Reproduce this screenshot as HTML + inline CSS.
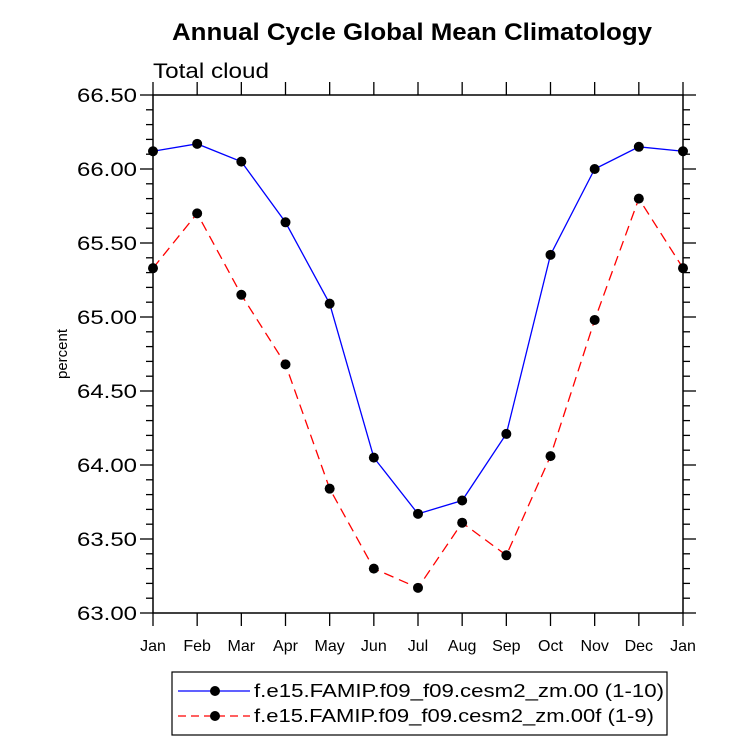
<!DOCTYPE html>
<html><head><meta charset="utf-8"><style>
body{margin:0;background:#fff}
svg text{font-family:"Liberation Sans",Arial,sans-serif}
</style></head><body>
<svg id="chart" width="733" height="748" xmlns="http://www.w3.org/2000/svg">
<text x="172" y="40" font-size="24" font-weight="bold" textLength="480" lengthAdjust="spacingAndGlyphs">Annual Cycle Global Mean Climatology</text>
<text x="153" y="78" font-size="21" textLength="116" lengthAdjust="spacingAndGlyphs">Total cloud</text>
<text transform="translate(67,354) rotate(-90)" font-size="15" text-anchor="middle">percent</text>
<g id="axes"></g>
<g id="series"></g>
<g>
<rect x="172" y="672" width="495" height="63" fill="none" stroke="#000" stroke-width="1.2"/>
<g>
<line x1="178" y1="691" x2="250" y2="691" stroke="#0000ff" stroke-width="1.2"/>
<circle cx="215" cy="691" r="5" fill="#000"/>
<text x="254" y="697" font-size="18" textLength="410" lengthAdjust="spacingAndGlyphs">f.e15.FAMIP.f09_f09.cesm2_zm.00 (1-10)</text></g>
<g>
<line x1="178" y1="716" x2="250" y2="716" stroke="#ff0000" stroke-width="1.2" stroke-dasharray="8,5"/>
<circle cx="215" cy="716" r="5" fill="#000"/>
<text x="254" y="722" font-size="18" textLength="400" lengthAdjust="spacingAndGlyphs">f.e15.FAMIP.f09_f09.cesm2_zm.00f (1-9)</text></g>
</g>
</svg>
<script>
const months=["Jan","Feb","Mar","Apr","May","Jun","Jul","Aug","Sep","Oct","Nov","Dec","Jan"];
const blueValues=[66.12,66.17,66.05,65.64,65.09,64.05,63.67,63.76,64.21,65.42,66.00,66.15,66.12];
const redValues=[65.33,65.70,65.15,64.68,63.84,63.30,63.17,63.61,63.39,64.06,64.98,65.80,65.33];
const yTicks=["63.00","63.50","64.00","64.50","65.00","65.50","66.00","66.50"];
const L=153,R=683,T=95,B=613,yMin=63,yMax=66.5;
const NS="http://www.w3.org/2000/svg";
function xs(i){return L+(R-L)*i/(months.length-1);}
function ys(v){return B-(B-T)*(v-yMin)/(yMax-yMin);}
function mk(tag,at,parent){const e=document.createElementNS(NS,tag);for(const k in at)e.setAttribute(k,at[k]);parent.appendChild(e);return e;}
const ax=document.getElementById('axes');
const frame=mk('rect',{x:L,y:T,width:R-L,height:B-T,fill:'none',stroke:'#000','stroke-width':1.5},ax);


for(let v=yMin;v<=yMax+1e-6;v+=0.1){
  const y=ys(v);const major=Math.abs(v*2-Math.round(v*2))<1e-6;const len=major?13:7;
  mk('line',{x1:L-len,y1:y,x2:L,y2:y,stroke:'#000','stroke-width':1.3},ax);
  mk('line',{x1:R,y1:y,x2:R+len,y2:y,stroke:'#000','stroke-width':1.3},ax);
}
yTicks.forEach(t=>{
  const tx=mk('text',{x:L-16,y:ys(parseFloat(t))+7,'font-size':19,'text-anchor':'end',textLength:60,lengthAdjust:'spacingAndGlyphs'},ax);tx.textContent=t;
  
  
});
months.forEach((m,i)=>{
  const x=xs(i);
  mk('line',{x1:x,y1:B,x2:x,y2:B+13,stroke:'#000','stroke-width':1.3},ax);
  mk('line',{x1:x,y1:T-13,x2:x,y2:T,stroke:'#000','stroke-width':1.3},ax);
  const tx=mk('text',{x:x,y:B+38,'font-size':16,'text-anchor':'middle'},ax);tx.textContent=m;
  
  
});
const sg=document.getElementById('series');
function drawSeries(vals,color,dash,name){
  const g=mk('g',{},sg);
  
  
  const pts=vals.map((v,i)=>xs(i)+','+ys(v)).join(' ');
  const pl=mk('polyline',{points:pts,fill:'none',stroke:color,'stroke-width':1.3},g);
  if(dash)pl.setAttribute('stroke-dasharray',dash);
  vals.forEach((v,i)=>{
    const c=mk('circle',{cx:xs(i),cy:ys(v),r:5,fill:'#000'},g);
    
    
  });
}
drawSeries(blueValues,'#0000ff',null,'series-blue');
drawSeries(redValues,'#ff0000','10,6','series-red');
</script>
</body></html>
